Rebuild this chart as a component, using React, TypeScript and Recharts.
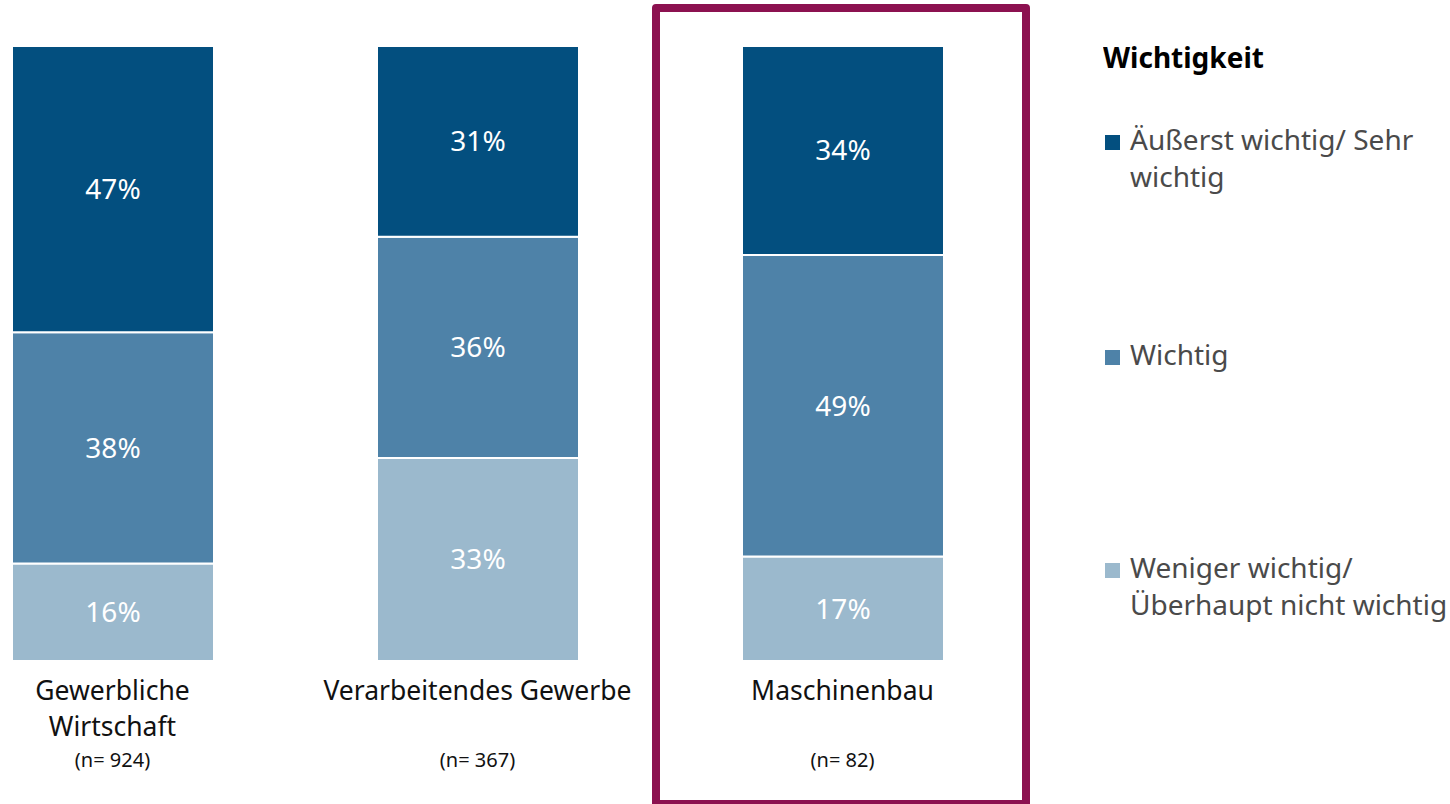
import { Bar, BarChart, LabelList, Legend, XAxis, YAxis } from "recharts";

const categories = ["Gewerbliche Wirtschaft", "Verarbeitendes Gewerbe", "Maschinenbau"];
const categoryLines = [["Gewerbliche", "Wirtschaft"], ["Verarbeitendes Gewerbe"], ["Maschinenbau"]];
const sampleSizes = ["(n= 924)", "(n= 367)", "(n= 82)"];

// shares in percent, top to bottom of each bar
const veryImportant = [47, 31, 34];
const important = [38, 36, 49];
const lessImportant = [16, 33, 17];

const legendTitle = "Wichtigkeit";
const legendLabels = [
  ["Äußerst wichtig/ Sehr", "wichtig"],
  ["Wichtig"],
  ["Weniger wichtig/", "Überhaupt nicht wichtig"],
];

const FONT = "'Noto Sans', sans-serif";
const DARK = "#034f7f";
const MID = "#4e82a8";
const LIGHT = "#9bb9cd";
const legendColors = [DARK, MID, LIGHT];
const legendBaselines = [150, 365, 578];

const data = categories.map((name, i) => ({
  name,
  high: veryImportant[i],
  mid: important[i],
  low: lessImportant[i],
}));

const CategoryTick = ({ x, y, payload }: any) => {
  const i = categories.indexOf(payload.value);
  return (
    <g>
      {categoryLines[i].map((line, k) => (
        <text
          key={k}
          x={x}
          y={y + 39 + k * 36}
          textAnchor="middle"
          fontSize={26.5}
          fontFamily={FONT}
          fill="#111"
        >
          {line}
        </text>
      ))}
      <text x={x} y={y + 106} textAnchor="middle" fontSize={20} fontFamily={FONT} fill="#111">
        {sampleSizes[i]}
      </text>
    </g>
  );
};

const LegendBox = () => (
  <svg width={347} height={804} style={{ display: "block" }}>
    <text x={0} y={68} fontSize={28} fontWeight={700} fontFamily={FONT} fill="#000">
      {legendTitle}
    </text>
    {legendLabels.map((lines, i) => (
      <g key={i}>
        <rect x={2} y={legendBaselines[i] - 15} width={15} height={15} fill={legendColors[i]} />
        {lines.map((line, k) => (
          <text
            key={k}
            x={27}
            y={legendBaselines[i] + k * 37}
            fontSize={28}
            fontFamily={FONT}
            fill="#4a4a4a"
          >
            {line}
          </text>
        ))}
      </g>
    ))}
  </svg>
);

const pct = (v: any) => `${v}%`;

export default function App() {
  return (
    <div style={{ position: "relative", width: 1450, height: 804, overflow: "hidden", background: "#fff" }}>
      <style>{"body{margin:0}"}</style>
      <div style={{ position: "absolute", left: -70.5, top: 0 }}>
        <BarChart
          width={1520}
          height={804}
          data={data}
          stackOffset="expand"
          barSize={202}
          margin={{ top: 46, right: 425, bottom: 0, left: 0 }}
        >
          <XAxis
            dataKey="name"
            height={143}
            axisLine={false}
            tickLine={false}
            tickSize={0}
            tickMargin={0}
            interval={0}
            tick={<CategoryTick />}
          />
          <YAxis hide domain={[0, 1]} />
          <Legend
            layout="horizontal"
            verticalAlign="middle"
            align="center"
            content={<LegendBox />}
            wrapperStyle={{ left: 1173.5, top: 0, width: 347, height: 804 }}
          />
          <Bar dataKey="low" stackId="a" fill={LIGHT} stroke="#fff" strokeWidth={2} isAnimationActive={false}>
            <LabelList dataKey="low" position="center" formatter={pct} fill="#fff" fontSize={28} fontFamily={FONT} />
          </Bar>
          <Bar dataKey="mid" stackId="a" fill={MID} stroke="#fff" strokeWidth={2} isAnimationActive={false}>
            <LabelList dataKey="mid" position="center" formatter={pct} fill="#fff" fontSize={28} fontFamily={FONT} />
          </Bar>
          <Bar dataKey="high" stackId="a" fill={DARK} stroke="#fff" strokeWidth={2} isAnimationActive={false}>
            <LabelList dataKey="high" position="center" formatter={pct} fill="#fff" fontSize={28} fontFamily={FONT} />
          </Bar>
        </BarChart>
      </div>
      {/* highlight frame around Maschinenbau */}
      <div
        style={{
          position: "absolute",
          left: 652,
          top: 4,
          width: 378,
          height: 804,
          border: "8px solid #8c1150",
          borderRadius: 4,
          boxSizing: "border-box",
        }}
      />
    </div>
  );
}
